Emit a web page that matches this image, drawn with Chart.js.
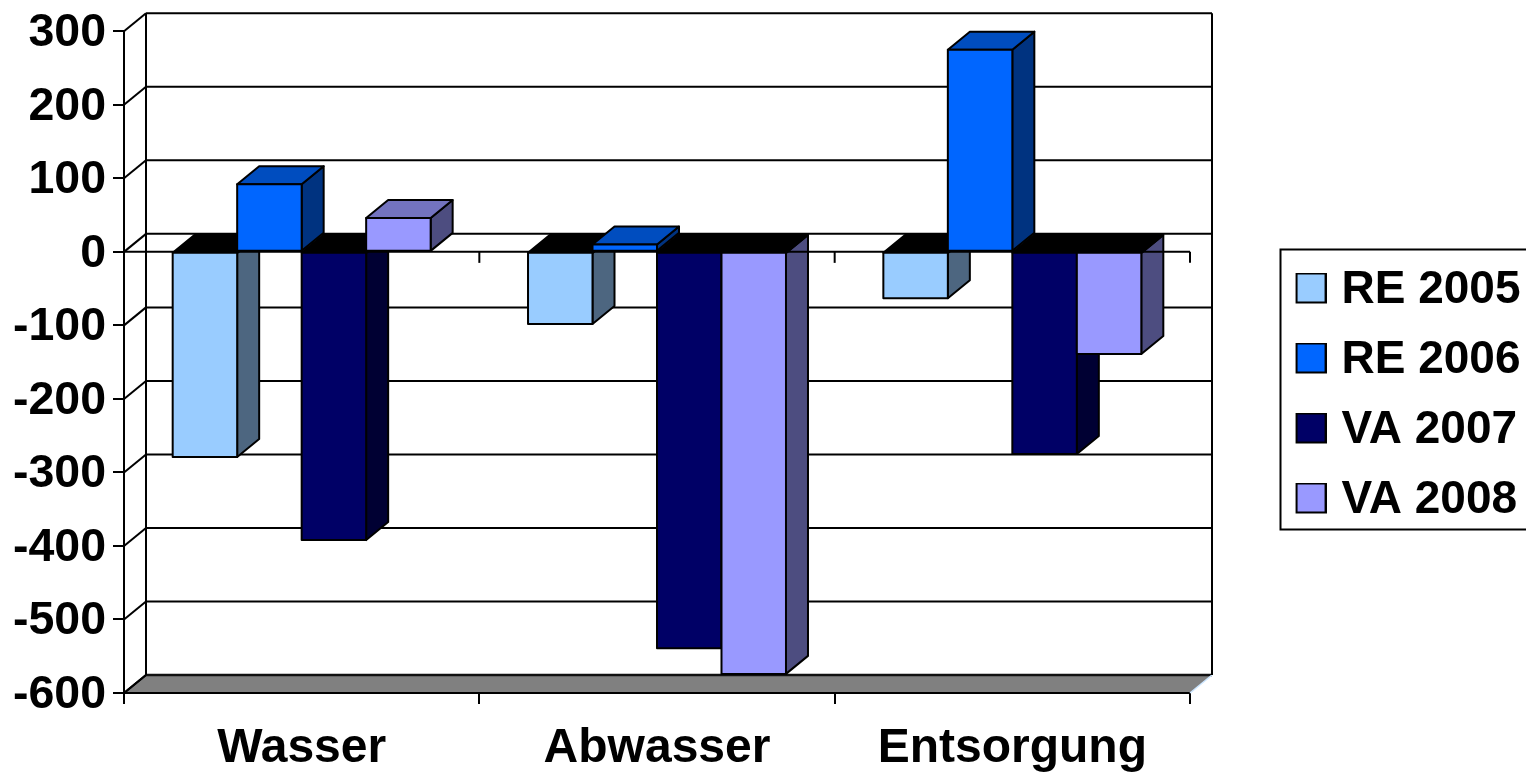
<!DOCTYPE html>
<html><head><meta charset="utf-8">
<style>html,body{margin:0;padding:0;background:#fff;overflow:hidden}canvas{display:block}</style>
<script src="https://cdn.jsdelivr.net/npm/chart.js@4"></script>
</head><body><canvas id="c" width="1526" height="773"></canvas>
<script>
const categories = ['Wasser','Abwasser','Entsorgung'];
const seriesNames = ['RE 2005','RE 2006','VA 2007','VA 2008'];
const re2005 = [-279,-98,-63];
const re2006 = [92,10,275];
const va2007 = [-392,-539,-275];
const va2008 = [46,-574,-139];
const allSeries = [re2005,re2006,va2007,va2008];
const frontColors = ['#99CCFF','#0066FF','#000066','#9999FF'];
const sideColors  = ['#4D6680','#003380','#000033','#4D4D80'];
const topColors   = ['#7399BF','#004DBF','#00004D','#7373BF'];
const DX = 22, DY = 18, LW = 2;
const FONT = 'Liberation Sans';

function swatch(color){
  const c = document.createElement('canvas'); c.width = 39; c.height = 35;
  const x = c.getContext('2d');
  x.fillStyle = '#000'; x.fillRect(8,0,31,31);
  x.fillStyle = color; x.fillRect(10,2,27,27);
  return c;
}
function poly(ctx, pts, fill, stroke){
  ctx.beginPath();
  pts.forEach((p,i)=> i ? ctx.lineTo(p[0],p[1]) : ctx.moveTo(p[0],p[1]));
  ctx.closePath();
  if(fill){ctx.fillStyle = fill; ctx.fill();}
  if(stroke){ctx.strokeStyle = stroke; ctx.lineWidth = LW; ctx.lineJoin='round'; ctx.stroke();}
}
function line(ctx,x1,y1,x2,y2,col,w){
  ctx.beginPath();ctx.moveTo(x1,y1);ctx.lineTo(x2,y2);ctx.strokeStyle=col||'#000';ctx.lineWidth=w||LW;ctx.stroke();
}
const threeD = {
  id:'threeD',
  beforeDraw(chart){
    const lg = chart.legend, ctx = chart.ctx;
    lg.left = 1271.6; lg.right = 1540; lg.top = 243; lg.bottom = 600;
    ctx.save();
    ctx.strokeStyle = '#000'; ctx.lineWidth = LW;
    ctx.strokeRect(1280.5,249.5,260,280);
    ctx.restore();
  },
  beforeDatasetsDraw(chart){
    const ctx = chart.ctx, a = chart.chartArea, y = chart.scales.y;
    const L=a.left,R=a.right,T=a.top,B=a.bottom;
    ctx.save();
    // floor
    poly(ctx,[[L,B],[L+DX,B-DY],[R+DX,B-DY],[R,B]],'#808080');
    line(ctx,L,B,R,B);
    line(ctx,L,B,L+DX,B-DY);
    line(ctx,L+DX,B-DY,R+DX,B-DY,'#111',2.5);
    line(ctx,R,B,R+DX,B-DY,'#CCE6FF',1.5);
    // walls and gridlines
    y.ticks.forEach(t=>{
      const py = y.getPixelForValue(t.value);
      line(ctx,L,py,L+DX,py-DY);
      if(t.value > y.min) line(ctx,L+DX,py-DY,R+DX,py-DY);
    });
    line(ctx,L+DX,T-DY,L+DX,B-DY);
    line(ctx,R+DX,T-DY,R+DX,B-DY);
    // bars, back to front
    const metas = allSeries.map((_,i)=>chart.getDatasetMeta(i));
    categories.forEach((_,c)=>{
      allSeries.forEach((s,d)=>{
        const bar = metas[d].data[c];
        const hw = bar.width/2, x0 = bar.x-hw, x1 = bar.x+hw;
        const yv = bar.y, yb = bar.base;
        const top = Math.min(yv,yb), bot = Math.max(yv,yb);
        poly(ctx,[[x1,top],[x1+DX,top-DY],[x1+DX,bot-DY],[x1,bot]],sideColors[d],'#000');
        poly(ctx,[[x0,top],[x0+DX,top-DY],[x1+DX,top-DY],[x1,top]],s[c]<0?'#000':topColors[d],'#000');
        bar.draw(ctx,a);
        poly(ctx,[[x0,top],[x1,top],[x1,bot],[x0,bot]],null,'#000');
      });
    });
    // zero axis with its own tick marks
    const zy = y.getPixelForValue(0);
    line(ctx,L,zy,R,zy);
    for(let i=1;i<=categories.length;i++){
      const tx = L+(R-L)*i/categories.length;
      line(ctx,tx,zy,tx,zy+11);
    }
    ctx.restore();
    return false;
  }
};
new Chart(document.getElementById('c'),{
  type:'bar',
  data:{labels:categories,datasets:seriesNames.map((n,i)=>({
    label:n,data:allSeries[i],backgroundColor:frontColors[i],borderWidth:0,
    categoryPercentage:0.726,barPercentage:1
  }))},
  options:{
    responsive:false,animation:false,events:[],
    layout:{padding:{top:31.3,right:336,bottom:0,left:0}},
    plugins:{
      tooltip:{enabled:false},
      legend:{position:'chartArea',align:'start',labels:{
        color:'#000',font:{family:FONT,size:46,weight:'bold'},
        usePointStyle:true,pointStyleWidth:22.9,padding:24,
        generateLabels(ch){return ch.data.datasets.map((d,i)=>({text:d.label,datasetIndex:i,fillStyle:d.backgroundColor,strokeStyle:'#000',lineWidth:0,pointStyle:swatch(d.backgroundColor),hidden:false}));}
      }}
    },
    scales:{
      x:{
        afterFit(s){s.height=80;},
        grid:{offset:true,drawOnChartArea:false,tickLength:11,color:'#000',lineWidth:LW},
        border:{color:'#000',width:LW},
        ticks:{color:'#000',padding:16,maxRotation:0,font:{family:FONT,size:48,weight:'bold'}}
      },
      y:{
        min:-600,max:300,
        afterFit(s){s.width=124;},
        grid:{drawOnChartArea:false,tickLength:11,color:'#000',lineWidth:LW},
        border:{color:'#000',width:LW},
        ticks:{stepSize:100,autoSkip:false,color:'#000',padding:7,labelOffset:2,font:{family:FONT,size:46.5,weight:'bold',lineHeight:1}}
      }
    }
  },
  plugins:[threeD]
});
</script></body></html>
